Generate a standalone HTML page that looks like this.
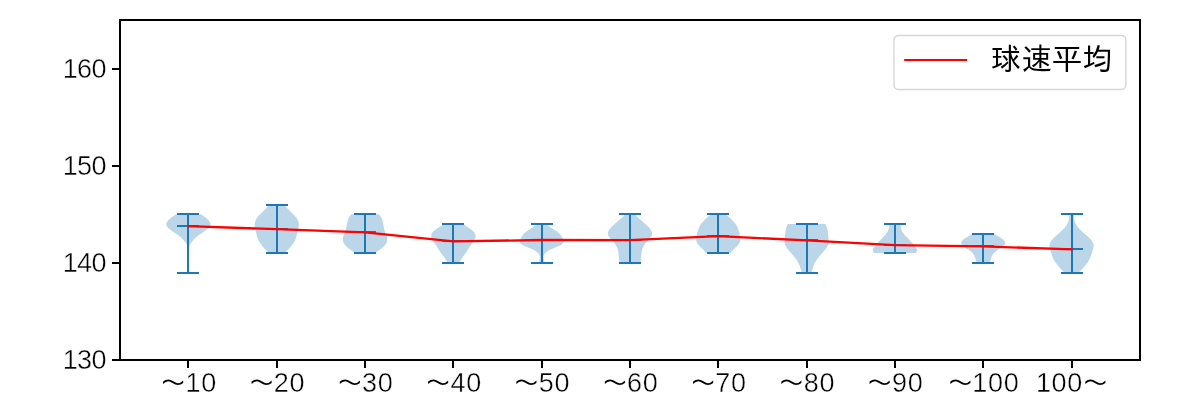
<!DOCTYPE html>
<html lang="ja"><head><meta charset="utf-8"><title>球速平均</title>
<style>html,body{margin:0;padding:0;background:#fff;}body{width:1200px;height:400px;overflow:hidden;}svg{display:block;}text{font-family:"Liberation Sans", "IPAGothic", "Noto Sans CJK JP", sans-serif;fill:#000;}text.d{stroke:#fff;stroke-width:0.4px;}</style>
</head><body>
<svg width="1200" height="400" viewBox="0 0 1200 400">
<rect x="0" y="0" width="1200" height="400" fill="#fff"/>
<g fill="#1f77b4" fill-opacity="0.3" stroke="none">
<path d="M176.04 214.30 L175.86 214.42 L175.63 214.56 L175.35 214.74 L175.03 214.96 L174.65 215.21 L174.24 215.50 L173.76 215.84 L173.20 216.24 L172.60 216.67 L171.98 217.12 L171.38 217.57 L170.84 218.00 L170.34 218.41 L169.85 218.81 L169.39 219.22 L168.95 219.63 L168.53 220.05 L168.14 220.50 L167.76 220.98 L167.39 221.48 L167.05 222.00 L166.74 222.52 L166.50 223.02 L166.34 223.50 L166.26 223.95 L166.25 224.37 L166.30 224.78 L166.41 225.19 L166.56 225.59 L166.74 226.00 L166.97 226.42 L167.24 226.83 L167.56 227.25 L167.92 227.67 L168.31 228.08 L168.74 228.50 L169.21 228.92 L169.73 229.33 L170.28 229.75 L170.86 230.17 L171.45 230.58 L172.04 231.00 L172.64 231.42 L173.25 231.83 L173.88 232.25 L174.51 232.67 L175.13 233.08 L175.74 233.50 L176.34 233.92 L176.95 234.33 L177.55 234.75 L178.13 235.17 L178.70 235.58 L179.24 236.00 L179.75 236.42 L180.25 236.83 L180.72 237.25 L181.18 237.67 L181.62 238.08 L182.04 238.50 L182.44 238.92 L182.83 239.33 L183.19 239.75 L183.54 240.17 L183.89 240.58 L184.24 241.00 L184.59 241.42 L184.95 241.83 L185.30 242.25 L185.63 242.67 L185.95 243.08 L186.24 243.50 L186.51 243.90 L186.75 244.28 L186.98 244.66 L187.18 245.06 L187.37 245.50 L187.54 246.00 L187.69 246.49 L187.81 246.93 L187.92 247.41 L188.01 248.02 L188.08 248.85 L188.14 250.00 L188.18 251.61 L188.21 253.63 L188.22 255.88 L188.22 258.15 L188.21 260.25 L188.19 262.00 L188.15 263.36 L188.10 264.50 L188.04 265.46 L187.97 266.33 L187.90 267.15 L187.84 268.00 L187.78 268.90 L187.73 269.81 L187.67 270.68 L187.62 271.46 L187.57 272.12 L187.54 272.60 L189.34 272.60 L189.31 272.12 L189.26 271.46 L189.21 270.68 L189.15 269.81 L189.10 268.90 L189.04 268.00 L188.98 267.15 L188.91 266.33 L188.84 265.46 L188.78 264.50 L188.73 263.36 L188.69 262.00 L188.67 260.25 L188.66 258.15 L188.66 255.88 L188.67 253.63 L188.70 251.61 L188.74 250.00 L188.80 248.85 L188.87 248.02 L188.96 247.41 L189.07 246.93 L189.19 246.49 L189.34 246.00 L189.51 245.50 L189.70 245.06 L189.90 244.66 L190.13 244.28 L190.37 243.90 L190.64 243.50 L190.93 243.08 L191.25 242.67 L191.58 242.25 L191.93 241.83 L192.29 241.42 L192.64 241.00 L192.99 240.58 L193.34 240.17 L193.69 239.75 L194.05 239.33 L194.44 238.92 L194.84 238.50 L195.26 238.08 L195.70 237.67 L196.16 237.25 L196.63 236.83 L197.13 236.42 L197.64 236.00 L198.18 235.58 L198.75 235.17 L199.33 234.75 L199.93 234.33 L200.54 233.92 L201.14 233.50 L201.75 233.08 L202.37 232.67 L203.00 232.25 L203.63 231.83 L204.24 231.42 L204.84 231.00 L205.43 230.58 L206.02 230.17 L206.60 229.75 L207.15 229.33 L207.67 228.92 L208.14 228.50 L208.57 228.08 L208.96 227.67 L209.32 227.25 L209.64 226.83 L209.91 226.42 L210.14 226.00 L210.32 225.59 L210.47 225.19 L210.58 224.78 L210.63 224.37 L210.62 223.95 L210.54 223.50 L210.38 223.02 L210.14 222.52 L209.83 222.00 L209.49 221.48 L209.12 220.98 L208.74 220.50 L208.35 220.05 L207.93 219.63 L207.49 219.22 L207.03 218.81 L206.54 218.41 L206.04 218.00 L205.50 217.57 L204.90 217.12 L204.28 216.67 L203.68 216.24 L203.12 215.84 L202.64 215.50 L202.23 215.21 L201.85 214.96 L201.53 214.74 L201.25 214.56 L201.02 214.42 L200.84 214.30 Z"/>
<path d="M268.95 204.60 L268.75 204.91 L268.49 205.32 L268.18 205.82 L267.82 206.36 L267.40 206.93 L266.95 207.50 L266.43 208.08 L265.84 208.69 L265.21 209.32 L264.55 209.97 L263.89 210.62 L263.25 211.25 L262.63 211.88 L261.99 212.50 L261.36 213.12 L260.74 213.75 L260.13 214.38 L259.55 215.00 L258.98 215.62 L258.41 216.25 L257.86 216.88 L257.34 217.50 L256.87 218.12 L256.45 218.75 L256.09 219.38 L255.79 220.03 L255.52 220.67 L255.30 221.31 L255.11 221.92 L254.95 222.50 L254.83 223.05 L254.76 223.58 L254.72 224.09 L254.70 224.58 L254.70 225.05 L254.70 225.50 L254.71 225.92 L254.73 226.30 L254.77 226.66 L254.81 227.01 L254.88 227.37 L254.95 227.75 L255.04 228.14 L255.15 228.52 L255.27 228.91 L255.39 229.31 L255.52 229.76 L255.65 230.25 L255.78 230.80 L255.90 231.41 L256.03 232.05 L256.16 232.70 L256.30 233.36 L256.45 234.00 L256.60 234.62 L256.75 235.25 L256.90 235.88 L257.06 236.50 L257.25 237.12 L257.45 237.75 L257.67 238.38 L257.90 239.00 L258.14 239.62 L258.41 240.25 L258.71 240.88 L259.05 241.50 L259.43 242.12 L259.85 242.75 L260.31 243.38 L260.78 244.00 L261.26 244.62 L261.75 245.25 L262.26 245.90 L262.79 246.56 L263.34 247.23 L263.88 247.88 L264.39 248.48 L264.85 249.00 L265.25 249.43 L265.61 249.79 L265.94 250.10 L266.25 250.39 L266.55 250.68 L266.85 251.00 L267.16 251.37 L267.47 251.77 L267.77 252.18 L268.05 252.55 L268.28 252.87 L268.45 253.10 L285.05 253.10 L285.22 252.87 L285.45 252.55 L285.73 252.18 L286.03 251.77 L286.34 251.37 L286.65 251.00 L286.95 250.68 L287.25 250.39 L287.56 250.10 L287.89 249.79 L288.25 249.43 L288.65 249.00 L289.11 248.48 L289.62 247.88 L290.16 247.23 L290.71 246.56 L291.24 245.90 L291.75 245.25 L292.24 244.62 L292.72 244.00 L293.19 243.38 L293.65 242.75 L294.07 242.12 L294.45 241.50 L294.79 240.88 L295.09 240.25 L295.36 239.62 L295.60 239.00 L295.83 238.38 L296.05 237.75 L296.25 237.12 L296.44 236.50 L296.60 235.88 L296.75 235.25 L296.90 234.62 L297.05 234.00 L297.20 233.36 L297.34 232.70 L297.47 232.05 L297.60 231.41 L297.72 230.80 L297.85 230.25 L297.98 229.76 L298.11 229.31 L298.23 228.91 L298.35 228.52 L298.46 228.14 L298.55 227.75 L298.62 227.37 L298.69 227.01 L298.73 226.66 L298.77 226.30 L298.79 225.92 L298.80 225.50 L298.80 225.05 L298.80 224.58 L298.78 224.09 L298.74 223.58 L298.67 223.05 L298.55 222.50 L298.39 221.92 L298.20 221.31 L297.98 220.67 L297.71 220.03 L297.41 219.38 L297.05 218.75 L296.63 218.12 L296.16 217.50 L295.64 216.88 L295.09 216.25 L294.52 215.62 L293.95 215.00 L293.37 214.38 L292.76 213.75 L292.14 213.12 L291.51 212.50 L290.87 211.88 L290.25 211.25 L289.61 210.62 L288.95 209.97 L288.29 209.32 L287.66 208.69 L287.07 208.08 L286.55 207.50 L286.10 206.93 L285.68 206.36 L285.32 205.82 L285.01 205.32 L284.75 204.91 L284.55 204.60 Z"/>
<path d="M351.56 214.30 L351.35 214.49 L351.06 214.74 L350.72 215.04 L350.36 215.39 L349.99 215.80 L349.66 216.25 L349.34 216.77 L349.02 217.37 L348.70 218.01 L348.39 218.68 L348.11 219.35 L347.86 220.00 L347.66 220.62 L347.49 221.25 L347.34 221.88 L347.21 222.50 L347.09 223.12 L346.96 223.75 L346.83 224.38 L346.72 225.00 L346.61 225.62 L346.50 226.25 L346.39 226.88 L346.26 227.50 L346.13 228.13 L345.99 228.77 L345.85 229.41 L345.70 230.04 L345.54 230.65 L345.36 231.25 L345.15 231.82 L344.91 232.38 L344.66 232.92 L344.41 233.45 L344.17 233.98 L343.96 234.50 L343.77 235.02 L343.59 235.55 L343.43 236.06 L343.28 236.56 L343.16 237.05 L343.06 237.50 L342.99 237.92 L342.95 238.31 L342.94 238.67 L342.93 239.03 L342.94 239.38 L342.96 239.75 L342.97 240.12 L342.97 240.47 L342.99 240.83 L343.03 241.19 L343.12 241.58 L343.26 242.00 L343.46 242.46 L343.70 242.94 L343.99 243.45 L344.31 243.97 L344.67 244.49 L345.06 245.00 L345.49 245.50 L345.96 246.00 L346.47 246.50 L347.01 247.00 L347.58 247.50 L348.16 248.00 L348.79 248.51 L349.49 249.03 L350.20 249.56 L350.91 250.07 L351.58 250.55 L352.16 251.00 L352.68 251.43 L353.17 251.84 L353.61 252.24 L354.00 252.59 L354.32 252.88 L354.56 253.10 L375.56 253.10 L375.80 252.88 L376.12 252.59 L376.51 252.24 L376.95 251.84 L377.44 251.43 L377.96 251.00 L378.54 250.55 L379.21 250.07 L379.92 249.56 L380.63 249.03 L381.33 248.51 L381.96 248.00 L382.54 247.50 L383.11 247.00 L383.65 246.50 L384.16 246.00 L384.63 245.50 L385.06 245.00 L385.45 244.49 L385.81 243.97 L386.13 243.45 L386.42 242.94 L386.66 242.46 L386.86 242.00 L387.00 241.58 L387.09 241.19 L387.13 240.83 L387.15 240.47 L387.15 240.12 L387.16 239.75 L387.18 239.38 L387.19 239.03 L387.19 238.67 L387.17 238.31 L387.13 237.92 L387.06 237.50 L386.96 237.05 L386.84 236.56 L386.69 236.06 L386.53 235.55 L386.35 235.02 L386.16 234.50 L385.95 233.98 L385.71 233.45 L385.46 232.92 L385.21 232.38 L384.97 231.82 L384.76 231.25 L384.58 230.65 L384.42 230.04 L384.27 229.41 L384.13 228.77 L383.99 228.13 L383.86 227.50 L383.73 226.88 L383.62 226.25 L383.51 225.62 L383.40 225.00 L383.29 224.38 L383.16 223.75 L383.03 223.12 L382.91 222.50 L382.78 221.88 L382.63 221.25 L382.46 220.62 L382.26 220.00 L382.01 219.35 L381.73 218.68 L381.42 218.01 L381.10 217.37 L380.78 216.77 L380.46 216.25 L380.13 215.80 L379.76 215.39 L379.40 215.04 L379.06 214.74 L378.77 214.49 L378.56 214.30 Z"/>
<path d="M443.17 224.00 L442.91 224.23 L442.57 224.53 L442.16 224.89 L441.68 225.31 L441.11 225.76 L440.47 226.25 L439.68 226.80 L438.74 227.42 L437.73 228.08 L436.71 228.75 L435.76 229.40 L434.97 230.00 L434.33 230.55 L433.77 231.08 L433.28 231.59 L432.86 232.08 L432.50 232.55 L432.17 233.00 L431.90 233.42 L431.69 233.81 L431.54 234.17 L431.43 234.53 L431.34 234.88 L431.27 235.25 L431.21 235.61 L431.17 235.94 L431.15 236.28 L431.17 236.64 L431.24 237.04 L431.37 237.50 L431.56 238.04 L431.81 238.64 L432.11 239.28 L432.44 239.94 L432.80 240.61 L433.17 241.25 L433.56 241.86 L433.99 242.46 L434.44 243.06 L434.91 243.68 L435.39 244.32 L435.87 245.00 L436.36 245.75 L436.87 246.55 L437.38 247.38 L437.90 248.20 L438.40 249.00 L438.87 249.75 L439.31 250.43 L439.73 251.07 L440.13 251.69 L440.53 252.29 L440.94 252.89 L441.37 253.50 L441.82 254.12 L442.29 254.75 L442.77 255.38 L443.25 256.00 L443.72 256.62 L444.17 257.25 L444.62 257.90 L445.07 258.57 L445.52 259.24 L445.94 259.89 L446.33 260.48 L446.67 261.00 L446.96 261.45 L447.21 261.84 L447.43 262.18 L447.61 262.48 L447.75 262.71 L447.87 262.90 L458.87 262.90 L458.99 262.71 L459.13 262.48 L459.31 262.18 L459.53 261.84 L459.78 261.45 L460.07 261.00 L460.41 260.48 L460.80 259.89 L461.22 259.24 L461.67 258.57 L462.12 257.90 L462.57 257.25 L463.02 256.62 L463.49 256.00 L463.97 255.38 L464.45 254.75 L464.92 254.12 L465.37 253.50 L465.80 252.89 L466.21 252.29 L466.61 251.69 L467.01 251.07 L467.43 250.43 L467.87 249.75 L468.34 249.00 L468.84 248.20 L469.36 247.38 L469.87 246.55 L470.38 245.75 L470.87 245.00 L471.35 244.32 L471.83 243.68 L472.30 243.06 L472.75 242.46 L473.18 241.86 L473.57 241.25 L473.94 240.61 L474.30 239.94 L474.63 239.28 L474.93 238.64 L475.18 238.04 L475.37 237.50 L475.50 237.04 L475.57 236.64 L475.59 236.28 L475.57 235.94 L475.53 235.61 L475.47 235.25 L475.40 234.88 L475.31 234.53 L475.20 234.17 L475.05 233.81 L474.84 233.42 L474.57 233.00 L474.24 232.55 L473.88 232.08 L473.46 231.59 L472.97 231.08 L472.41 230.55 L471.77 230.00 L470.98 229.40 L470.03 228.75 L469.01 228.08 L468.00 227.42 L467.06 226.80 L466.27 226.25 L465.63 225.76 L465.06 225.31 L464.58 224.89 L464.17 224.53 L463.83 224.23 L463.57 224.00 Z"/>
<path d="M536.68 224.00 L536.48 224.23 L536.24 224.53 L535.94 224.89 L535.56 225.31 L535.08 225.76 L534.48 226.25 L533.70 226.80 L532.73 227.44 L531.66 228.11 L530.58 228.79 L529.56 229.43 L528.68 230.00 L527.95 230.49 L527.30 230.93 L526.72 231.33 L526.18 231.71 L525.67 232.10 L525.18 232.50 L524.71 232.92 L524.27 233.33 L523.86 233.75 L523.48 234.17 L523.12 234.58 L522.78 235.00 L522.46 235.42 L522.17 235.83 L521.90 236.25 L521.65 236.67 L521.41 237.08 L521.18 237.50 L520.96 237.92 L520.75 238.35 L520.56 238.78 L520.38 239.20 L520.22 239.61 L520.08 240.00 L519.96 240.37 L519.85 240.72 L519.76 241.06 L519.69 241.39 L519.66 241.70 L519.68 242.00 L519.74 242.28 L519.84 242.54 L519.97 242.78 L520.14 243.02 L520.35 243.26 L520.58 243.50 L520.86 243.75 L521.18 244.01 L521.53 244.27 L521.91 244.52 L522.29 244.76 L522.68 245.00 L523.07 245.22 L523.47 245.44 L523.88 245.64 L524.30 245.84 L524.74 246.04 L525.18 246.25 L525.63 246.46 L526.09 246.66 L526.56 246.86 L527.05 247.06 L527.55 247.28 L528.08 247.50 L528.65 247.74 L529.25 247.98 L529.87 248.23 L530.50 248.49 L531.11 248.75 L531.68 249.00 L532.22 249.25 L532.75 249.50 L533.27 249.75 L533.76 250.00 L534.23 250.25 L534.68 250.50 L535.10 250.75 L535.49 251.00 L535.87 251.25 L536.22 251.50 L536.56 251.75 L536.88 252.00 L537.19 252.25 L537.48 252.50 L537.76 252.75 L538.02 253.00 L538.26 253.25 L538.48 253.50 L538.68 253.74 L538.85 253.97 L539.00 254.20 L539.14 254.44 L539.26 254.71 L539.38 255.00 L539.50 255.33 L539.61 255.69 L539.71 256.08 L539.79 256.47 L539.85 256.87 L539.88 257.25 L539.87 257.61 L539.82 257.96 L539.75 258.30 L539.66 258.66 L539.57 259.06 L539.48 259.50 L539.38 260.04 L539.27 260.67 L539.16 261.34 L539.04 261.98 L538.95 262.52 L538.88 262.90 L544.48 262.90 L544.41 262.52 L544.32 261.98 L544.21 261.34 L544.09 260.67 L543.98 260.04 L543.88 259.50 L543.79 259.06 L543.70 258.66 L543.61 258.30 L543.54 257.96 L543.49 257.61 L543.48 257.25 L543.51 256.87 L543.57 256.47 L543.65 256.08 L543.75 255.69 L543.86 255.33 L543.98 255.00 L544.10 254.71 L544.22 254.44 L544.36 254.20 L544.51 253.97 L544.68 253.74 L544.88 253.50 L545.10 253.25 L545.34 253.00 L545.60 252.75 L545.88 252.50 L546.17 252.25 L546.48 252.00 L546.80 251.75 L547.14 251.50 L547.49 251.25 L547.87 251.00 L548.26 250.75 L548.68 250.50 L549.13 250.25 L549.60 250.00 L550.09 249.75 L550.61 249.50 L551.14 249.25 L551.68 249.00 L552.25 248.75 L552.86 248.49 L553.49 248.23 L554.11 247.98 L554.71 247.74 L555.28 247.50 L555.81 247.28 L556.31 247.06 L556.80 246.86 L557.27 246.66 L557.73 246.46 L558.18 246.25 L558.62 246.04 L559.06 245.84 L559.48 245.64 L559.89 245.44 L560.29 245.22 L560.68 245.00 L561.07 244.76 L561.45 244.52 L561.83 244.27 L562.18 244.01 L562.50 243.75 L562.78 243.50 L563.01 243.26 L563.22 243.02 L563.39 242.78 L563.52 242.54 L563.62 242.28 L563.68 242.00 L563.70 241.70 L563.67 241.39 L563.61 241.06 L563.51 240.72 L563.40 240.37 L563.28 240.00 L563.14 239.61 L562.98 239.20 L562.81 238.78 L562.61 238.35 L562.40 237.92 L562.18 237.50 L561.95 237.08 L561.71 236.67 L561.46 236.25 L561.19 235.83 L560.90 235.42 L560.58 235.00 L560.24 234.58 L559.88 234.17 L559.50 233.75 L559.09 233.33 L558.65 232.92 L558.18 232.50 L557.69 232.10 L557.18 231.71 L556.64 231.33 L556.06 230.93 L555.41 230.49 L554.68 230.00 L553.80 229.43 L552.78 228.79 L551.70 228.11 L550.63 227.44 L549.66 226.80 L548.88 226.25 L548.28 225.76 L547.80 225.31 L547.42 224.89 L547.12 224.53 L546.88 224.23 L546.68 224.00 Z"/>
<path d="M624.69 214.30 L624.50 214.57 L624.25 214.94 L623.95 215.38 L623.62 215.86 L623.26 216.32 L622.89 216.75 L622.51 217.13 L622.11 217.49 L621.69 217.84 L621.25 218.20 L620.78 218.58 L620.29 219.00 L619.77 219.46 L619.22 219.94 L618.64 220.45 L618.05 220.97 L617.47 221.49 L616.89 222.00 L616.32 222.50 L615.74 223.00 L615.16 223.50 L614.59 224.00 L614.03 224.50 L613.49 225.00 L612.96 225.50 L612.42 226.00 L611.90 226.50 L611.40 227.00 L610.93 227.50 L610.49 228.00 L610.08 228.51 L609.70 229.03 L609.34 229.55 L609.02 230.06 L608.73 230.54 L608.49 231.00 L608.30 231.42 L608.15 231.81 L608.05 232.17 L607.97 232.53 L607.92 232.88 L607.89 233.25 L607.86 233.62 L607.85 233.97 L607.86 234.33 L607.91 234.69 L608.01 235.08 L608.19 235.50 L608.45 235.96 L608.80 236.44 L609.20 236.95 L609.63 237.47 L610.07 237.99 L610.49 238.50 L610.91 239.00 L611.35 239.50 L611.79 240.00 L612.23 240.50 L612.67 241.00 L613.09 241.50 L613.50 242.00 L613.90 242.50 L614.30 243.00 L614.68 243.50 L615.04 244.00 L615.39 244.50 L615.72 245.00 L616.03 245.50 L616.33 246.00 L616.60 246.50 L616.86 247.00 L617.09 247.50 L617.29 248.00 L617.46 248.50 L617.62 249.00 L617.75 249.50 L617.87 250.00 L617.99 250.50 L618.10 251.00 L618.20 251.50 L618.28 252.00 L618.36 252.50 L618.43 253.00 L618.49 253.50 L618.54 254.00 L618.59 254.50 L618.62 255.00 L618.66 255.50 L618.70 256.00 L618.74 256.50 L618.79 257.00 L618.84 257.49 L618.90 257.97 L618.96 258.47 L619.02 258.98 L619.09 259.50 L619.17 260.08 L619.26 260.73 L619.36 261.39 L619.45 262.00 L619.53 262.53 L619.59 262.90 L640.39 262.90 L640.45 262.53 L640.53 262.00 L640.62 261.39 L640.72 260.73 L640.81 260.08 L640.89 259.50 L640.96 258.98 L641.02 258.47 L641.08 257.97 L641.14 257.49 L641.19 257.00 L641.24 256.50 L641.28 256.00 L641.32 255.50 L641.36 255.00 L641.39 254.50 L641.44 254.00 L641.49 253.50 L641.55 253.00 L641.62 252.50 L641.70 252.00 L641.78 251.50 L641.88 251.00 L641.99 250.50 L642.11 250.00 L642.23 249.50 L642.37 249.00 L642.52 248.50 L642.69 248.00 L642.89 247.50 L643.12 247.00 L643.38 246.50 L643.65 246.00 L643.95 245.50 L644.26 245.00 L644.59 244.50 L644.94 244.00 L645.30 243.50 L645.68 243.00 L646.08 242.50 L646.48 242.00 L646.89 241.50 L647.31 241.00 L647.75 240.50 L648.19 240.00 L648.63 239.50 L649.07 239.00 L649.49 238.50 L649.91 237.99 L650.35 237.47 L650.78 236.95 L651.18 236.44 L651.53 235.96 L651.79 235.50 L651.97 235.08 L652.07 234.69 L652.12 234.33 L652.13 233.97 L652.12 233.62 L652.09 233.25 L652.06 232.88 L652.01 232.53 L651.93 232.17 L651.83 231.81 L651.68 231.42 L651.49 231.00 L651.25 230.54 L650.96 230.06 L650.64 229.55 L650.28 229.03 L649.90 228.51 L649.49 228.00 L649.05 227.50 L648.58 227.00 L648.08 226.50 L647.56 226.00 L647.02 225.50 L646.49 225.00 L645.95 224.50 L645.39 224.00 L644.82 223.50 L644.24 223.00 L643.66 222.50 L643.09 222.00 L642.51 221.49 L641.93 220.97 L641.34 220.45 L640.76 219.94 L640.21 219.46 L639.69 219.00 L639.20 218.58 L638.73 218.20 L638.29 217.84 L637.87 217.49 L637.47 217.13 L637.09 216.75 L636.72 216.32 L636.36 215.86 L636.03 215.38 L635.73 214.94 L635.48 214.57 L635.29 214.30 Z"/>
<path d="M711.10 214.30 L710.77 214.57 L710.31 214.94 L709.76 215.38 L709.18 215.86 L708.61 216.32 L708.10 216.75 L707.65 217.13 L707.21 217.49 L706.79 217.84 L706.37 218.20 L705.94 218.58 L705.50 219.00 L705.04 219.46 L704.56 219.94 L704.08 220.45 L703.60 220.97 L703.14 221.49 L702.70 222.00 L702.28 222.50 L701.87 223.00 L701.47 223.50 L701.09 224.00 L700.73 224.50 L700.40 225.00 L700.10 225.50 L699.83 226.00 L699.58 226.50 L699.34 227.00 L699.12 227.50 L698.90 228.00 L698.68 228.50 L698.48 229.00 L698.28 229.50 L698.09 230.00 L697.91 230.50 L697.75 231.00 L697.60 231.51 L697.46 232.04 L697.33 232.56 L697.21 233.07 L697.10 233.56 L697.00 234.00 L696.91 234.38 L696.84 234.70 L696.77 235.00 L696.72 235.30 L696.66 235.62 L696.60 236.00 L696.53 236.45 L696.46 236.95 L696.39 237.48 L696.33 238.02 L696.28 238.53 L696.25 239.00 L696.24 239.42 L696.23 239.81 L696.24 240.17 L696.27 240.53 L696.32 240.88 L696.40 241.25 L696.51 241.62 L696.64 242.00 L696.79 242.38 L696.97 242.75 L697.17 243.12 L697.40 243.50 L697.65 243.88 L697.94 244.25 L698.25 244.62 L698.57 245.00 L698.91 245.38 L699.25 245.75 L699.60 246.12 L699.97 246.50 L700.35 246.88 L700.74 247.25 L701.12 247.62 L701.50 248.00 L701.88 248.38 L702.26 248.75 L702.65 249.12 L703.03 249.50 L703.40 249.88 L703.75 250.25 L704.10 250.64 L704.45 251.06 L704.79 251.48 L705.11 251.87 L705.38 252.22 L705.60 252.50 L705.76 252.70 L705.86 252.84 L705.92 252.94 L705.95 253.01 L705.97 253.05 L706.00 253.10 L730.60 253.10 L730.63 253.05 L730.65 253.01 L730.68 252.94 L730.74 252.84 L730.84 252.70 L731.00 252.50 L731.22 252.22 L731.49 251.87 L731.81 251.48 L732.15 251.06 L732.50 250.64 L732.85 250.25 L733.20 249.88 L733.57 249.50 L733.95 249.12 L734.34 248.75 L734.72 248.38 L735.10 248.00 L735.48 247.62 L735.86 247.25 L736.25 246.88 L736.63 246.50 L737.00 246.12 L737.35 245.75 L737.69 245.38 L738.03 245.00 L738.35 244.62 L738.66 244.25 L738.95 243.88 L739.20 243.50 L739.43 243.12 L739.63 242.75 L739.81 242.38 L739.96 242.00 L740.09 241.62 L740.20 241.25 L740.28 240.88 L740.33 240.53 L740.36 240.17 L740.37 239.81 L740.36 239.42 L740.35 239.00 L740.32 238.53 L740.27 238.02 L740.21 237.48 L740.14 236.95 L740.07 236.45 L740.00 236.00 L739.94 235.62 L739.88 235.30 L739.82 235.00 L739.76 234.70 L739.69 234.38 L739.60 234.00 L739.50 233.56 L739.39 233.07 L739.27 232.56 L739.14 232.04 L739.00 231.51 L738.85 231.00 L738.69 230.50 L738.51 230.00 L738.32 229.50 L738.12 229.00 L737.92 228.50 L737.70 228.00 L737.48 227.50 L737.26 227.00 L737.02 226.50 L736.77 226.00 L736.50 225.50 L736.20 225.00 L735.87 224.50 L735.51 224.00 L735.13 223.50 L734.73 223.00 L734.32 222.50 L733.90 222.00 L733.46 221.49 L733.00 220.97 L732.52 220.45 L732.04 219.94 L731.56 219.46 L731.10 219.00 L730.66 218.58 L730.23 218.20 L729.81 217.84 L729.39 217.49 L728.95 217.13 L728.50 216.75 L727.99 216.32 L727.42 215.86 L726.84 215.38 L726.29 214.94 L725.83 214.57 L725.50 214.30 Z"/>
<path d="M787.91 224.00 L787.76 224.30 L787.55 224.70 L787.31 225.19 L787.05 225.71 L786.81 226.25 L786.61 226.75 L786.44 227.24 L786.30 227.73 L786.16 228.23 L786.04 228.74 L785.92 229.25 L785.81 229.75 L785.71 230.25 L785.62 230.75 L785.54 231.25 L785.46 231.75 L785.38 232.25 L785.31 232.75 L785.24 233.24 L785.17 233.72 L785.10 234.20 L785.04 234.69 L784.97 235.21 L784.91 235.75 L784.84 236.33 L784.77 236.94 L784.70 237.58 L784.64 238.22 L784.59 238.87 L784.56 239.50 L784.55 240.15 L784.56 240.82 L784.59 241.50 L784.62 242.15 L784.66 242.74 L784.71 243.25 L784.75 243.65 L784.79 243.96 L784.84 244.22 L784.90 244.45 L784.99 244.70 L785.11 245.00 L785.27 245.35 L785.47 245.71 L785.69 246.09 L785.92 246.48 L786.17 246.87 L786.41 247.25 L786.65 247.62 L786.88 247.97 L787.13 248.33 L787.39 248.69 L787.68 249.08 L788.01 249.50 L788.39 249.96 L788.80 250.44 L789.25 250.95 L789.71 251.47 L790.17 251.99 L790.61 252.50 L791.05 253.00 L791.48 253.50 L791.92 254.00 L792.36 254.50 L792.79 255.00 L793.21 255.50 L793.63 256.00 L794.04 256.50 L794.45 257.00 L794.85 257.50 L795.24 258.00 L795.61 258.50 L795.97 259.00 L796.32 259.50 L796.67 260.00 L797.00 260.50 L797.31 261.00 L797.61 261.50 L797.89 262.00 L798.16 262.50 L798.41 263.00 L798.65 263.50 L798.89 264.00 L799.11 264.50 L799.32 265.00 L799.53 265.50 L799.72 266.00 L799.91 266.50 L800.09 267.00 L800.26 267.50 L800.43 268.01 L800.60 268.53 L800.75 269.06 L800.90 269.57 L801.04 270.05 L801.16 270.50 L801.27 270.93 L801.36 271.34 L801.44 271.74 L801.51 272.09 L801.57 272.38 L801.61 272.60 L811.61 272.60 L811.65 272.38 L811.71 272.09 L811.78 271.74 L811.86 271.34 L811.95 270.93 L812.06 270.50 L812.18 270.05 L812.32 269.57 L812.47 269.06 L812.62 268.53 L812.79 268.01 L812.96 267.50 L813.13 267.00 L813.31 266.50 L813.50 266.00 L813.69 265.50 L813.90 265.00 L814.11 264.50 L814.33 264.00 L814.57 263.50 L814.81 263.00 L815.06 262.50 L815.33 262.00 L815.61 261.50 L815.91 261.00 L816.22 260.50 L816.55 260.00 L816.90 259.50 L817.25 259.00 L817.61 258.50 L817.98 258.00 L818.37 257.50 L818.77 257.00 L819.18 256.50 L819.59 256.00 L820.01 255.50 L820.43 255.00 L820.86 254.50 L821.30 254.00 L821.74 253.50 L822.17 253.00 L822.61 252.50 L823.05 251.99 L823.51 251.47 L823.97 250.95 L824.42 250.44 L824.83 249.96 L825.21 249.50 L825.54 249.08 L825.83 248.69 L826.09 248.33 L826.34 247.97 L826.57 247.62 L826.81 247.25 L827.05 246.87 L827.30 246.48 L827.54 246.09 L827.75 245.71 L827.95 245.35 L828.11 245.00 L828.23 244.70 L828.32 244.45 L828.38 244.22 L828.43 243.96 L828.47 243.65 L828.51 243.25 L828.56 242.74 L828.60 242.15 L828.63 241.50 L828.66 240.82 L828.67 240.15 L828.66 239.50 L828.63 238.87 L828.58 238.22 L828.52 237.58 L828.45 236.94 L828.38 236.33 L828.31 235.75 L828.25 235.21 L828.18 234.69 L828.12 234.20 L828.05 233.72 L827.98 233.24 L827.91 232.75 L827.84 232.25 L827.76 231.75 L827.69 231.25 L827.60 230.75 L827.51 230.25 L827.41 229.75 L827.30 229.25 L827.18 228.74 L827.06 228.23 L826.92 227.73 L826.78 227.24 L826.61 226.75 L826.41 226.25 L826.17 225.71 L825.91 225.19 L825.67 224.70 L825.46 224.30 L825.31 224.00 Z"/>
<path d="M889.32 224.00 L889.31 224.30 L889.30 224.73 L889.28 225.23 L889.26 225.77 L889.22 226.29 L889.17 226.75 L889.11 227.15 L889.03 227.54 L888.94 227.91 L888.84 228.27 L888.74 228.63 L888.62 229.00 L888.50 229.38 L888.36 229.75 L888.22 230.12 L888.07 230.50 L887.90 230.88 L887.72 231.25 L887.52 231.62 L887.31 232.00 L887.08 232.38 L886.83 232.75 L886.58 233.12 L886.32 233.50 L886.05 233.88 L885.76 234.25 L885.47 234.62 L885.16 235.00 L884.85 235.38 L884.52 235.75 L884.18 236.12 L883.81 236.50 L883.44 236.88 L883.06 237.25 L882.69 237.62 L882.32 238.00 L881.96 238.38 L881.61 238.75 L881.26 239.12 L880.92 239.50 L880.57 239.88 L880.22 240.25 L879.87 240.62 L879.52 241.00 L879.16 241.38 L878.81 241.75 L878.46 242.12 L878.12 242.50 L877.78 242.88 L877.44 243.25 L877.11 243.62 L876.78 244.00 L876.45 244.38 L876.12 244.75 L875.79 245.12 L875.46 245.50 L875.13 245.88 L874.81 246.25 L874.50 246.62 L874.22 247.00 L873.95 247.38 L873.69 247.76 L873.45 248.15 L873.23 248.53 L873.05 248.90 L872.92 249.25 L872.84 249.58 L872.81 249.89 L872.82 250.19 L872.86 250.49 L872.93 250.79 L873.02 251.10 L873.16 251.45 L873.35 251.83 L873.58 252.22 L873.80 252.58 L873.99 252.88 L874.12 253.10 L915.72 253.10 L915.85 252.88 L916.04 252.58 L916.26 252.22 L916.49 251.83 L916.68 251.45 L916.82 251.10 L916.91 250.79 L916.98 250.49 L917.02 250.19 L917.03 249.89 L917.00 249.58 L916.92 249.25 L916.79 248.90 L916.61 248.53 L916.40 248.15 L916.15 247.76 L915.89 247.38 L915.62 247.00 L915.34 246.62 L915.03 246.25 L914.71 245.88 L914.38 245.50 L914.05 245.12 L913.72 244.75 L913.39 244.38 L913.06 244.00 L912.73 243.62 L912.40 243.25 L912.06 242.88 L911.72 242.50 L911.38 242.12 L911.03 241.75 L910.68 241.38 L910.32 241.00 L909.97 240.62 L909.62 240.25 L909.27 239.88 L908.92 239.50 L908.58 239.12 L908.23 238.75 L907.88 238.38 L907.52 238.00 L907.15 237.62 L906.78 237.25 L906.40 236.88 L906.03 236.50 L905.66 236.12 L905.32 235.75 L904.99 235.38 L904.68 235.00 L904.37 234.62 L904.08 234.25 L903.79 233.88 L903.52 233.50 L903.26 233.12 L903.01 232.75 L902.76 232.38 L902.53 232.00 L902.32 231.62 L902.12 231.25 L901.94 230.88 L901.77 230.50 L901.62 230.12 L901.48 229.75 L901.34 229.38 L901.22 229.00 L901.10 228.63 L901.00 228.27 L900.90 227.91 L900.81 227.54 L900.73 227.15 L900.67 226.75 L900.62 226.29 L900.58 225.77 L900.56 225.23 L900.54 224.73 L900.53 224.30 L900.52 224.00 Z"/>
<path d="M972.43 233.70 L971.94 234.01 L971.27 234.45 L970.47 234.96 L969.62 235.50 L968.78 236.03 L968.03 236.50 L967.35 236.91 L966.67 237.29 L966.00 237.66 L965.37 238.02 L964.78 238.38 L964.23 238.75 L963.73 239.13 L963.26 239.51 L962.84 239.90 L962.45 240.28 L962.12 240.65 L961.83 241.00 L961.60 241.34 L961.42 241.66 L961.29 241.98 L961.20 242.28 L961.15 242.59 L961.13 242.90 L961.14 243.21 L961.19 243.51 L961.27 243.80 L961.40 244.11 L961.59 244.42 L961.83 244.75 L962.14 245.10 L962.53 245.47 L962.96 245.85 L963.43 246.24 L963.93 246.62 L964.43 247.00 L964.95 247.38 L965.52 247.75 L966.10 248.12 L966.69 248.50 L967.27 248.88 L967.83 249.25 L968.37 249.62 L968.92 250.00 L969.46 250.38 L969.97 250.75 L970.47 251.12 L970.93 251.50 L971.36 251.88 L971.76 252.25 L972.14 252.62 L972.50 253.00 L972.83 253.38 L973.13 253.75 L973.40 254.12 L973.64 254.49 L973.86 254.86 L974.05 255.23 L974.24 255.61 L974.43 256.00 L974.62 256.40 L974.80 256.81 L974.97 257.23 L975.13 257.66 L975.28 258.08 L975.43 258.50 L975.57 258.92 L975.70 259.36 L975.82 259.79 L975.94 260.21 L976.04 260.62 L976.13 261.00 L976.21 261.37 L976.27 261.75 L976.32 262.11 L976.37 262.43 L976.40 262.70 L976.43 262.90 L990.03 262.90 L990.06 262.70 L990.09 262.43 L990.14 262.11 L990.19 261.75 L990.25 261.37 L990.33 261.00 L990.42 260.62 L990.52 260.21 L990.64 259.79 L990.76 259.36 L990.89 258.92 L991.03 258.50 L991.18 258.08 L991.33 257.66 L991.49 257.23 L991.66 256.81 L991.84 256.40 L992.03 256.00 L992.22 255.61 L992.41 255.23 L992.61 254.86 L992.82 254.49 L993.06 254.12 L993.33 253.75 L993.63 253.38 L993.96 253.00 L994.32 252.62 L994.70 252.25 L995.10 251.88 L995.53 251.50 L995.99 251.12 L996.49 250.75 L997.00 250.38 L997.54 250.00 L998.09 249.62 L998.63 249.25 L999.19 248.88 L999.77 248.50 L1000.36 248.12 L1000.94 247.75 L1001.51 247.38 L1002.03 247.00 L1002.53 246.62 L1003.03 246.24 L1003.50 245.85 L1003.93 245.47 L1004.32 245.10 L1004.63 244.75 L1004.87 244.42 L1005.06 244.11 L1005.19 243.80 L1005.27 243.51 L1005.32 243.21 L1005.33 242.90 L1005.31 242.59 L1005.26 242.28 L1005.17 241.98 L1005.04 241.66 L1004.86 241.34 L1004.63 241.00 L1004.34 240.65 L1004.01 240.28 L1003.62 239.90 L1003.20 239.51 L1002.73 239.13 L1002.23 238.75 L1001.68 238.38 L1001.09 238.02 L1000.46 237.66 L999.79 237.29 L999.11 236.91 L998.43 236.50 L997.68 236.03 L996.84 235.50 L995.99 234.96 L995.19 234.45 L994.52 234.01 L994.03 233.70 Z"/>
<path d="M1069.34 214.30 L1069.31 214.73 L1069.28 215.33 L1069.25 216.04 L1069.20 216.80 L1069.13 217.56 L1069.04 218.25 L1068.93 218.90 L1068.80 219.54 L1068.66 220.18 L1068.50 220.81 L1068.33 221.42 L1068.14 222.00 L1067.95 222.54 L1067.74 223.06 L1067.53 223.55 L1067.29 224.03 L1067.03 224.51 L1066.74 225.00 L1066.42 225.50 L1066.06 226.00 L1065.68 226.50 L1065.28 227.00 L1064.87 227.50 L1064.44 228.00 L1064.00 228.50 L1063.54 229.00 L1063.06 229.50 L1062.57 230.00 L1062.06 230.50 L1061.54 231.00 L1061.00 231.50 L1060.44 232.00 L1059.87 232.50 L1059.28 233.00 L1058.71 233.50 L1058.14 234.00 L1057.57 234.51 L1056.99 235.04 L1056.41 235.56 L1055.85 236.07 L1055.32 236.56 L1054.84 237.00 L1054.41 237.39 L1054.03 237.74 L1053.68 238.06 L1053.36 238.37 L1053.05 238.68 L1052.74 239.00 L1052.44 239.32 L1052.16 239.63 L1051.90 239.94 L1051.64 240.26 L1051.39 240.61 L1051.14 241.00 L1050.88 241.45 L1050.62 241.95 L1050.36 242.48 L1050.11 243.02 L1049.90 243.53 L1049.74 244.00 L1049.62 244.41 L1049.54 244.78 L1049.49 245.12 L1049.47 245.47 L1049.47 245.84 L1049.49 246.25 L1049.54 246.71 L1049.62 247.19 L1049.72 247.70 L1049.84 248.22 L1049.97 248.74 L1050.09 249.25 L1050.22 249.75 L1050.35 250.25 L1050.49 250.75 L1050.64 251.25 L1050.79 251.75 L1050.94 252.25 L1051.10 252.75 L1051.25 253.25 L1051.42 253.75 L1051.59 254.25 L1051.76 254.75 L1051.94 255.25 L1052.13 255.75 L1052.32 256.26 L1052.51 256.77 L1052.72 257.27 L1052.93 257.76 L1053.14 258.25 L1053.35 258.72 L1053.56 259.18 L1053.78 259.62 L1054.01 260.07 L1054.26 260.53 L1054.54 261.00 L1054.86 261.49 L1055.21 261.98 L1055.58 262.48 L1055.97 262.99 L1056.36 263.50 L1056.74 264.00 L1057.11 264.50 L1057.48 265.00 L1057.85 265.50 L1058.23 266.00 L1058.63 266.50 L1059.04 267.00 L1059.48 267.50 L1059.95 268.01 L1060.43 268.53 L1060.91 269.03 L1061.38 269.52 L1061.84 270.00 L1062.30 270.49 L1062.79 270.99 L1063.26 271.49 L1063.70 271.94 L1064.07 272.32 L1064.34 272.60 L1078.74 272.60 L1079.01 272.32 L1079.38 271.94 L1079.82 271.49 L1080.29 270.99 L1080.78 270.49 L1081.24 270.00 L1081.70 269.52 L1082.17 269.03 L1082.65 268.53 L1083.13 268.01 L1083.60 267.50 L1084.04 267.00 L1084.45 266.50 L1084.85 266.00 L1085.23 265.50 L1085.60 265.00 L1085.97 264.50 L1086.34 264.00 L1086.72 263.50 L1087.11 262.99 L1087.50 262.48 L1087.87 261.98 L1088.22 261.49 L1088.54 261.00 L1088.82 260.53 L1089.07 260.07 L1089.30 259.62 L1089.52 259.18 L1089.73 258.72 L1089.94 258.25 L1090.15 257.76 L1090.36 257.27 L1090.57 256.77 L1090.76 256.26 L1090.95 255.75 L1091.14 255.25 L1091.32 254.75 L1091.49 254.25 L1091.66 253.75 L1091.83 253.25 L1091.98 252.75 L1092.14 252.25 L1092.29 251.75 L1092.44 251.25 L1092.59 250.75 L1092.73 250.25 L1092.86 249.75 L1092.99 249.25 L1093.11 248.74 L1093.24 248.22 L1093.36 247.70 L1093.46 247.19 L1093.54 246.71 L1093.59 246.25 L1093.61 245.84 L1093.61 245.47 L1093.59 245.12 L1093.54 244.78 L1093.46 244.41 L1093.34 244.00 L1093.18 243.53 L1092.97 243.02 L1092.72 242.48 L1092.46 241.95 L1092.20 241.45 L1091.94 241.00 L1091.69 240.61 L1091.44 240.26 L1091.18 239.94 L1090.92 239.63 L1090.64 239.32 L1090.34 239.00 L1090.03 238.68 L1089.72 238.37 L1089.40 238.06 L1089.05 237.74 L1088.67 237.39 L1088.24 237.00 L1087.76 236.56 L1087.23 236.07 L1086.67 235.56 L1086.09 235.04 L1085.51 234.51 L1084.94 234.00 L1084.37 233.50 L1083.80 233.00 L1083.21 232.50 L1082.64 232.00 L1082.08 231.50 L1081.54 231.00 L1081.02 230.50 L1080.51 230.00 L1080.02 229.50 L1079.54 229.00 L1079.08 228.50 L1078.64 228.00 L1078.21 227.50 L1077.80 227.00 L1077.40 226.50 L1077.02 226.00 L1076.66 225.50 L1076.34 225.00 L1076.05 224.51 L1075.79 224.03 L1075.55 223.55 L1075.34 223.06 L1075.13 222.54 L1074.94 222.00 L1074.75 221.42 L1074.58 220.81 L1074.42 220.18 L1074.28 219.54 L1074.15 218.90 L1074.04 218.25 L1073.95 217.56 L1073.88 216.80 L1073.83 216.04 L1073.80 215.33 L1073.77 214.73 L1073.74 214.30 Z"/>
</g>
<g fill="#1f77b4" shape-rendering="crispEdges">
<rect x="187" y="213" width="2" height="61"/>
<rect x="177" y="213" width="22" height="2"/>
<rect x="177" y="272" width="22" height="2"/>
<rect x="177" y="225" width="22" height="2"/>
<rect x="276" y="204" width="2" height="50"/>
<rect x="266" y="204" width="22" height="2"/>
<rect x="266" y="252" width="22" height="2"/>
<rect x="266" y="228" width="22" height="2"/>
<rect x="364" y="213" width="2" height="41"/>
<rect x="354" y="213" width="22" height="2"/>
<rect x="354" y="252" width="22" height="2"/>
<rect x="354" y="231" width="22" height="2"/>
<rect x="452" y="223" width="2" height="41"/>
<rect x="442" y="223" width="22" height="2"/>
<rect x="442" y="262" width="22" height="2"/>
<rect x="442" y="240" width="22" height="2"/>
<rect x="541" y="223" width="2" height="41"/>
<rect x="531" y="223" width="22" height="2"/>
<rect x="531" y="262" width="22" height="2"/>
<rect x="531" y="239" width="22" height="2"/>
<rect x="629" y="213" width="2" height="51"/>
<rect x="619" y="213" width="22" height="2"/>
<rect x="619" y="262" width="22" height="2"/>
<rect x="619" y="239" width="22" height="2"/>
<rect x="717" y="213" width="2" height="41"/>
<rect x="707" y="213" width="22" height="2"/>
<rect x="707" y="252" width="22" height="2"/>
<rect x="707" y="235" width="22" height="2"/>
<rect x="806" y="223" width="2" height="51"/>
<rect x="796" y="223" width="22" height="2"/>
<rect x="796" y="272" width="22" height="2"/>
<rect x="796" y="239" width="22" height="2"/>
<rect x="894" y="223" width="2" height="31"/>
<rect x="884" y="223" width="22" height="2"/>
<rect x="884" y="252" width="22" height="2"/>
<rect x="884" y="244" width="22" height="2"/>
<rect x="982" y="233" width="2" height="31"/>
<rect x="972" y="233" width="22" height="2"/>
<rect x="972" y="262" width="22" height="2"/>
<rect x="972" y="245" width="22" height="2"/>
<rect x="1071" y="213" width="2" height="61"/>
<rect x="1061" y="213" width="22" height="2"/>
<rect x="1061" y="272" width="22" height="2"/>
<rect x="1061" y="248" width="22" height="2"/>
</g>
<path d="M188.44 226.25 L276.75 229.20 L365.06 232.35 L453.37 241.45 L541.68 240.00 L629.99 240.05 L718.30 236.15 L806.61 240.40 L894.92 245.20 L983.23 246.40 L1071.54 249.30" fill="none" stroke="#ff0000" stroke-width="2.3" stroke-linecap="square" stroke-linejoin="round"/>
<rect x="120" y="20" width="1020" height="340" fill="none" stroke="#000" stroke-width="2" shape-rendering="crispEdges"/>
<g fill="#000" shape-rendering="crispEdges">
<rect x="187" y="360" width="2" height="7.8"/>
<rect x="276" y="360" width="2" height="7.8"/>
<rect x="364" y="360" width="2" height="7.8"/>
<rect x="452" y="360" width="2" height="7.8"/>
<rect x="541" y="360" width="2" height="7.8"/>
<rect x="629" y="360" width="2" height="7.8"/>
<rect x="717" y="360" width="2" height="7.8"/>
<rect x="806" y="360" width="2" height="7.8"/>
<rect x="894" y="360" width="2" height="7.8"/>
<rect x="982" y="360" width="2" height="7.8"/>
<rect x="1071" y="360" width="2" height="7.8"/>
<rect x="112.2" y="359" width="7.8" height="2"/>
<rect x="112.2" y="262" width="7.8" height="2"/>
<rect x="112.2" y="165" width="7.8" height="2"/>
<rect x="112.2" y="68" width="7.8" height="2"/>
</g>
<g>
<text x="160.34" y="391.6" font-size="25.50px">～</text>
<text x="216.94" y="391.6" font-size="27.00px" letter-spacing="0.70" text-anchor="end" class="d">10</text>
<text x="248.65" y="391.6" font-size="25.50px">～</text>
<text x="305.25" y="391.6" font-size="27.00px" letter-spacing="0.70" text-anchor="end" class="d">20</text>
<text x="336.96" y="391.6" font-size="25.50px">～</text>
<text x="393.56" y="391.6" font-size="27.00px" letter-spacing="0.70" text-anchor="end" class="d">30</text>
<text x="425.27" y="391.6" font-size="25.50px">～</text>
<text x="481.87" y="391.6" font-size="27.00px" letter-spacing="0.70" text-anchor="end" class="d">40</text>
<text x="513.58" y="391.6" font-size="25.50px">～</text>
<text x="570.18" y="391.6" font-size="27.00px" letter-spacing="0.70" text-anchor="end" class="d">50</text>
<text x="601.89" y="391.6" font-size="25.50px">～</text>
<text x="658.49" y="391.6" font-size="27.00px" letter-spacing="0.70" text-anchor="end" class="d">60</text>
<text x="690.20" y="391.6" font-size="25.50px">～</text>
<text x="746.80" y="391.6" font-size="27.00px" letter-spacing="0.70" text-anchor="end" class="d">70</text>
<text x="778.51" y="391.6" font-size="25.50px">～</text>
<text x="835.11" y="391.6" font-size="27.00px" letter-spacing="0.70" text-anchor="end" class="d">80</text>
<text x="866.82" y="391.6" font-size="25.50px">～</text>
<text x="923.42" y="391.6" font-size="27.00px" letter-spacing="0.70" text-anchor="end" class="d">90</text>
<text x="947.53" y="391.6" font-size="25.50px">～</text>
<text x="1019.43" y="391.6" font-size="27.00px" letter-spacing="0.70" text-anchor="end" class="d">100</text>
<text x="1083.04" y="391.6" font-size="27.00px" letter-spacing="0.70" text-anchor="end" class="d">100</text>
<text x="1082.44" y="391.6" font-size="25.50px">～</text>
<text x="105.90" y="369.00" font-size="27.00px" letter-spacing="-0.60" text-anchor="end" class="d">130</text>
<text x="105.90" y="271.86" font-size="27.00px" letter-spacing="-0.60" text-anchor="end" class="d">140</text>
<text x="105.90" y="174.71" font-size="27.00px" letter-spacing="-0.60" text-anchor="end" class="d">150</text>
<text x="105.90" y="77.57" font-size="27.00px" letter-spacing="-0.60" text-anchor="end" class="d">160</text>
</g>
<rect x="894" y="35.5" width="231.8" height="54" rx="4.2" ry="4.2" fill="#fff" fill-opacity="0.8" stroke="#cccccc" stroke-opacity="0.8" stroke-width="1.39"/>
<path d="M905.2 60 L966.0 60" fill="none" stroke="#ff0000" stroke-width="2.08" stroke-linecap="square"/>
<text x="990.7" y="69.7" font-size="30.50px">球速平均</text>
</svg></body></html>
